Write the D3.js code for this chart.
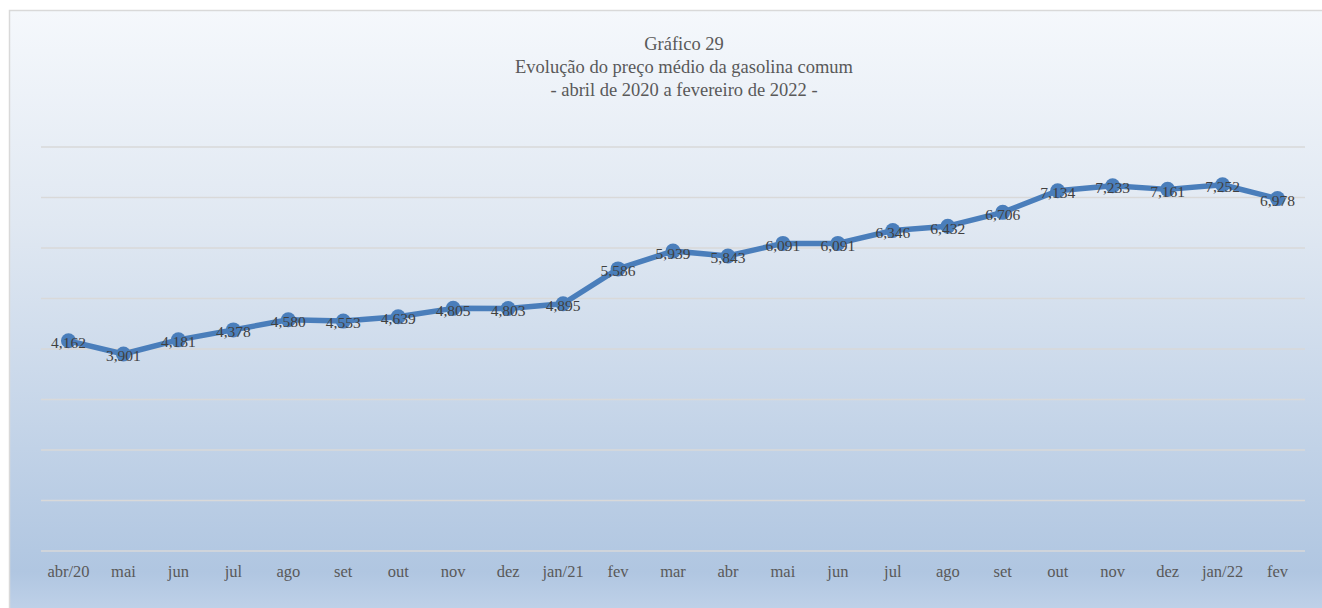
<!DOCTYPE html>
<html>
<head>
<meta charset="utf-8">
<script src="https://cdn.jsdelivr.net/npm/d3@7"></script>
<style>
  body { margin: 0; background: #fff; }
  svg { display: block; }
  text { font-family: 'Liberation Serif', 'DejaVu Serif', serif; }
</style>
</head>
<body>
<svg id="chart" width="1322" height="608"></svg>
<script>
// months along the x axis
var categories = ['abr/20', 'mai', 'jun', 'jul', 'ago', 'set', 'out', 'nov', 'dez', 'jan/21',
  'fev', 'mar', 'abr', 'mai', 'jun', 'jul', 'ago', 'set', 'out', 'nov', 'dez', 'jan/22', 'fev']

// average price of regular gasoline (R$/l)
var prices = [4.162, 3.901, 4.181, 4.378, 4.580, 4.553, 4.639, 4.805, 4.803, 4.895,
  5.586, 5.939, 5.843, 6.091, 6.091, 6.346, 6.432, 6.706, 7.134, 7.233, 7.161, 7.252, 6.978]

var yTicks = [0, 1, 2, 3, 4, 5, 6, 7, 8]

var titleLines = ['Gráfico 29', 'Evolução do preço médio da gasolina comum', '- abril de 2020 a fevereiro de 2022 -']

var svg = d3.select('#chart')
var defs = svg.append('defs')

var grad = defs.append('linearGradient')
  .attr('id', 'bg')
  .attr('x1', 0).attr('y1', 0).attr('x2', 0).attr('y2', 1)
grad.append('stop').attr('offset', '0%').attr('stop-color', '#f5f8fc')
grad.append('stop').attr('offset', '35%').attr('stop-color', '#e0e8f2')
grad.append('stop').attr('offset', '92%').attr('stop-color', '#b0c6e1')
grad.append('stop').attr('offset', '100%').attr('stop-color', '#c3d4ea')

// chart area (runs past the right / bottom of the window)
svg.append('rect')
  .attr('x', 9.5).attr('y', 10.5)
  .attr('width', 1330).attr('height', 610)
  .attr('fill', 'url(#bg)')
  .attr('stroke', '#d9d9d9')
  .attr('stroke-width', 1.5)

var margin = { left: 41, right: 1305, top: 147, bottom: 551 }

var x = d3.scaleBand()
  .domain(d3.range(categories.length))
  .range([margin.left, margin.right])

var y = d3.scaleLinear()
  .domain([0, 8])
  .range([margin.bottom, margin.top])

// gridlines
svg.append('g')
  .selectAll('line')
  .data(yTicks)
  .enter().append('line')
  .attr('x1', margin.left).attr('x2', margin.right)
  .attr('y1', function (d) { return y(d) }).attr('y2', function (d) { return y(d) })
  .attr('stroke', '#d9d9d9')
  .attr('stroke-width', 1.5)

// x axis labels
var xAxis = d3.axisBottom(x)
  .tickFormat(function (i) { return categories[i] })
  .tickSize(0)
  .tickPadding(14)
var gx = svg.append('g')
  .attr('transform', 'translate(0,' + margin.bottom + ')')
  .call(xAxis)
gx.select('.domain').remove()
gx.selectAll('text')
  .attr('fill', '#595959')
  .style('font-size', '16.5px')
  .style('font-family', "'Liberation Serif', serif")

var cx = function (d, i) { return x(i) + x.bandwidth() / 2 }

var line = d3.line()
  .x(cx)
  .y(function (d) { return y(d) })

svg.append('path')
  .datum(prices)
  .attr('d', line)
  .attr('fill', 'none')
  .attr('stroke', '#4a7ebb')
  .attr('stroke-width', 5.5)
  .attr('stroke-linejoin', 'round')

svg.append('g')
  .selectAll('circle')
  .data(prices)
  .enter().append('circle')
  .attr('cx', cx)
  .attr('cy', function (d) { return y(d) })
  .attr('r', 7.5)
  .attr('fill', '#4a7ebb')

var fmt = function (v) { return d3.format('.3f')(v).replace('.', ',') }

svg.append('g')
  .selectAll('text')
  .data(prices)
  .enter().append('text')
  .attr('x', cx)
  .attr('y', function (d) { return y(d) + 2 })
  .attr('dy', '0.35em')
  .attr('text-anchor', 'middle')
  .attr('fill', '#404040')
  .style('font-size', '15.5px')
  .text(fmt)

// title
svg.append('g')
  .selectAll('text')
  .data(titleLines)
  .enter().append('text')
  .attr('x', 684)
  .attr('y', function (d, i) { return 50 + i * 23 })
  .attr('text-anchor', 'middle')
  .attr('fill', '#595959')
  .style('font-size', '18.5px')
  .text(function (d) { return d })
</script>
</body>
</html>
